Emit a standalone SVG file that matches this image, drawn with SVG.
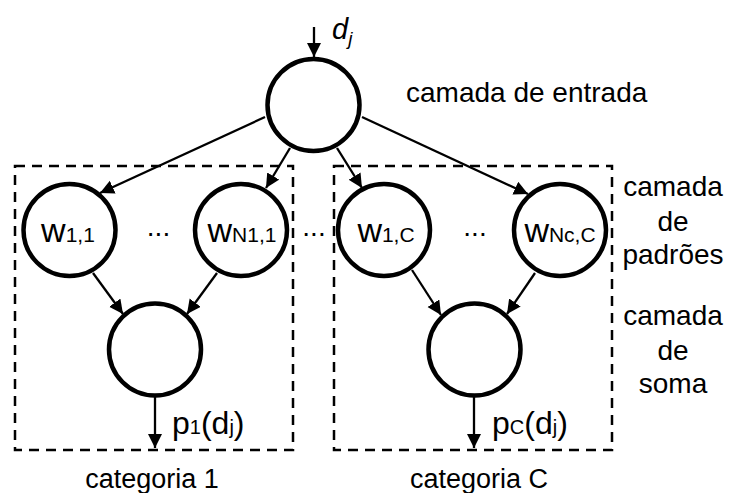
<svg xmlns="http://www.w3.org/2000/svg" width="730" height="493" viewBox="0 0 730 493">
  <defs>
    <marker id="arrow" markerUnits="userSpaceOnUse" markerWidth="15" markerHeight="15" refX="14" refY="7" orient="auto">
      <path d="M0,0 L14,7 L0,14 z" fill="#000"/>
    </marker>
    <style>
      text { font-family: "Liberation Sans", Arial, sans-serif; fill: #000; }
      .node { fill: #fff; stroke: #000; stroke-width: 4.5; }
      .box { fill: none; stroke: #000; stroke-width: 2.5; stroke-dasharray: 10 7; }
      .edge { stroke: #000; stroke-width: 2.3; fill: none; marker-end: url(#arrow); }
      .lbl { font-size: 28px; }
      .w { font-size: 34px; text-anchor: middle; }
      .sub { font-size: 21px; }
      .dots { font-size: 28px; text-anchor: middle; }
      .side { font-size: 28px; text-anchor: middle; }
      .cat { font-size: 27px; text-anchor: middle; }
      .out { font-size: 32px; }
      .osub { font-size: 20px; }
    </style>
  </defs>

  <rect width="730" height="493" fill="#fff"/>

  <!-- category boxes -->
  <g id="categoria-1">
    <rect class="box" x="15" y="166" width="278" height="284"/>
    <text class="cat" x="152" y="488">categoria 1</text>
  </g>
  <g id="categoria-C">
    <rect class="box" x="334" y="166" width="278" height="284"/>
    <text class="cat" x="479" y="488">categoria C</text>
  </g>

  <!-- input layer -->
  <g id="entrada">
    <circle class="node" cx="313.5" cy="105" r="46"/>
    <text x="332" y="39" font-size="29" font-style="italic">d<tspan font-size="19" dy="6">j</tspan></text>
  </g>

  <!-- pattern layer -->
  <g id="w-1-1">
    <circle class="node" cx="69.5" cy="230" r="46"/>
    <text class="w" x="68" y="242">w<tspan class="sub">1,1</tspan></text>
  </g>
  <g id="w-N1-1">
    <circle class="node" cx="241" cy="230" r="46"/>
    <text class="w" x="242" y="242">w<tspan class="sub">N1,1</tspan></text>
  </g>
  <g id="w-1-C">
    <circle class="node" cx="384" cy="230" r="46"/>
    <text class="w" x="386" y="242">w<tspan class="sub">1,C</tspan></text>
  </g>
  <g id="w-Nc-C">
    <circle class="node" cx="560" cy="230" r="46"/>
    <text class="w" x="560" y="242">w<tspan class="sub">Nc,C</tspan></text>
  </g>

  <!-- summation layer -->
  <g id="soma-1">
    <circle class="node" cx="155" cy="349.5" r="46"/>
    <text class="out" x="172" y="434">p<tspan class="osub">1</tspan>(d<tspan class="osub">j</tspan>)</text>
  </g>
  <g id="soma-C">
    <circle class="node" cx="474.5" cy="349.5" r="46"/>
    <text class="out" x="492" y="434">p<tspan class="osub">C</tspan>(d<tspan class="osub">j</tspan>)</text>
  </g>

  <!-- ellipses between nodes -->
  <g id="reticencias">
    <text class="dots" x="158.5" y="236">...</text>
    <text class="dots" x="314" y="236">...</text>
    <text class="dots" x="475" y="236">...</text>
  </g>

  <!-- layer names -->
  <g id="camadas">
    <text class="lbl" x="406" y="102">camada de entrada</text>
    <text class="side" x="673" y="196">camada</text>
    <text class="side" x="673" y="231">de</text>
    <text class="side" x="673" y="264">padrões</text>
    <text class="side" x="673" y="325">camada</text>
    <text class="side" x="673" y="360">de</text>
    <text class="side" x="673" y="393">soma</text>
  </g>

  <!-- connectors -->
  <g id="conexoes">
    <line class="edge" x1="314" y1="27" x2="314" y2="57"/>
    <line class="edge" x1="265" y1="117" x2="100" y2="193"/>
    <line class="edge" x1="290" y1="148" x2="266" y2="188"/>
    <line class="edge" x1="337" y1="148" x2="362" y2="188"/>
    <line class="edge" x1="362" y1="117" x2="528" y2="194"/>
    <line class="edge" x1="93" y1="273" x2="123" y2="314"/>
    <line class="edge" x1="217" y1="273" x2="187" y2="314"/>
    <line class="edge" x1="412" y1="270" x2="441" y2="315"/>
    <line class="edge" x1="535" y1="273" x2="507" y2="314"/>
    <line class="edge" x1="155" y1="397" x2="155" y2="448"/>
    <line class="edge" x1="474" y1="397" x2="474" y2="448"/>
  </g>
</svg>
